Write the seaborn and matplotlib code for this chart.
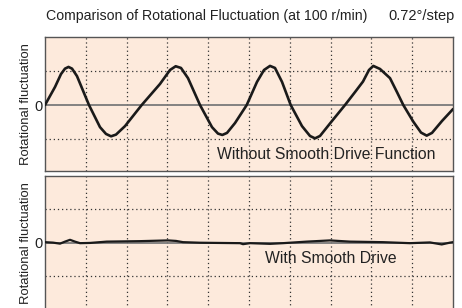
import seaborn as sns
import matplotlib.pyplot as plt
import pandas as pd

# Curve without smooth drive (x in grid divisions, y in grid divisions)
x_without = [0, 0.245, 0.392, 0.49, 0.576, 0.662, 0.784, 1.078, 1.348, 1.495, 1.618, 1.74, 1.961,
             2.37, 2.819, 3.064, 3.203, 3.333, 3.505, 3.799, 4.093, 4.24, 4.346, 4.461, 4.657,
             4.944, 5.196, 5.368, 5.515, 5.637, 5.809, 6.022, 6.299, 6.495, 6.618, 6.74, 7.034,
             7.353, 7.598, 7.794, 7.941, 8.047, 8.211, 8.456, 8.627, 8.782, 9.027, 9.216, 9.355,
             9.485, 9.73, 10.0]
y_without = [0, 0.53, 0.91, 1.07, 1.12, 1.07, 0.85, 0, -0.65, -0.85, -0.92, -0.87, -0.62,
             0, 0.62, 1.03, 1.14, 1.09, 0.79, 0, -0.65, -0.84, -0.88, -0.82, -0.53,
             0, 0.68, 1.03, 1.15, 1.09, 0.68, 0, -0.62, -0.91, -0.98, -0.91, -0.47,
             0, 0.38, 0.69, 1.03, 1.15, 1.06, 0.79, 0.38, 0, -0.49, -0.81, -0.90,
             -0.82, -0.47, -0.12]

# Curve with smooth drive
x_with = [0, 0.196, 0.368, 0.49, 0.613, 0.735, 0.858, 1.103, 1.512, 2.328, 3.015, 3.211, 3.382,
          3.799, 4.779, 4.853, 5.025, 5.515, 5.833, 6.414, 6.985, 7.475, 8.284, 8.946, 9.436,
          9.723, 9.926, 10.0]
y_with = [0.02, 0.006, -0.024, 0.036, 0.09, 0.036, -0.01, -0.003, 0.036, 0.05, 0.072, 0.057, 0.02,
          0.003, -0.01, -0.04, -0.01, -0.03, -0.01, 0.036, 0.072, 0.036, 0.02, -0.01, 0.012,
          -0.048, 0.006, 0.02]

title = 'Comparison of Rotational Fluctuation (at 100 r/min)'
step_label = '0.72°/step'
ylabel = 'Rotational fluctuation'
label_without = 'Without Smooth Drive Function'
label_with = 'With Smooth Drive'

sns.set_style('white')
plt.rcParams['font.family'] = ['Liberation Sans', 'DejaVu Sans']

bg = '#fdeadc'
text_color = '#222222'

fig = plt.figure(figsize=(4.62, 3.08), dpi=100)
W, H = 462, 308

def add_axes(top_px, bottom_px):
    return fig.add_axes([45 / W, 1 - bottom_px / H, 408 / W, (bottom_px - top_px) / H])

ax1 = add_axes(37, 171)
ax2 = add_axes(176, 310)

panels = [
    (ax1, x_without, y_without, (-1.94, 2.0), 1.9),
    (ax2, x_with, y_with, (-2.0, 1.99), 1.6),
]

for ax, xs, ys, ylim, lw in panels:
    ax.set_facecolor(bg)
    df = pd.DataFrame({'x': xs, 'y': ys})
    ax.axhline(0, color='#7a7a7a', lw=1.3, zorder=2)
    for gx in range(1, 10):
        ax.axvline(gx, color='#333333', lw=0.9, ls=(0, (1, 2.3)), zorder=1)
    for gy in (-1, 1):
        ax.axhline(gy, color='#333333', lw=0.9, ls=(0, (1, 2.3)), zorder=1)
    sns.lineplot(data=df, x='x', y='y', ax=ax, color='#1a1a1a', lw=lw, sort=False, zorder=3)
    ax.set_xlim(0, 10)
    ax.set_ylim(*ylim)
    ax.set_xticks([])
    ax.set_yticks([0])
    ax.set_yticklabels(['0'], fontsize=10.5, color=text_color)
    ax.tick_params(axis='y', length=0, pad=2)
    ax.set_xlabel('')
    ax.set_ylabel(ylabel, fontsize=9.4, color=text_color, labelpad=1.5)
    for s in ax.spines.values():
        s.set_color('#555555')
        s.set_linewidth(1.0)

ax1.text(0.9576, 0.125, label_without, transform=ax1.transAxes, ha='right', va='center',
         fontsize=11.3, color=text_color)
ax2.text(0.70, 0.386, label_with, transform=ax2.transAxes, ha='center', va='center',
         fontsize=11.3, color=text_color)

fig.text(45.5 / W, 1 - 16 / H, title, ha='left', va='center', fontsize=10.2, color=text_color)
fig.text(455 / W, 1 - 16 / H, step_label, ha='right', va='center', fontsize=10.5, color=text_color)

fig.savefig('out.png', dpi=100)
